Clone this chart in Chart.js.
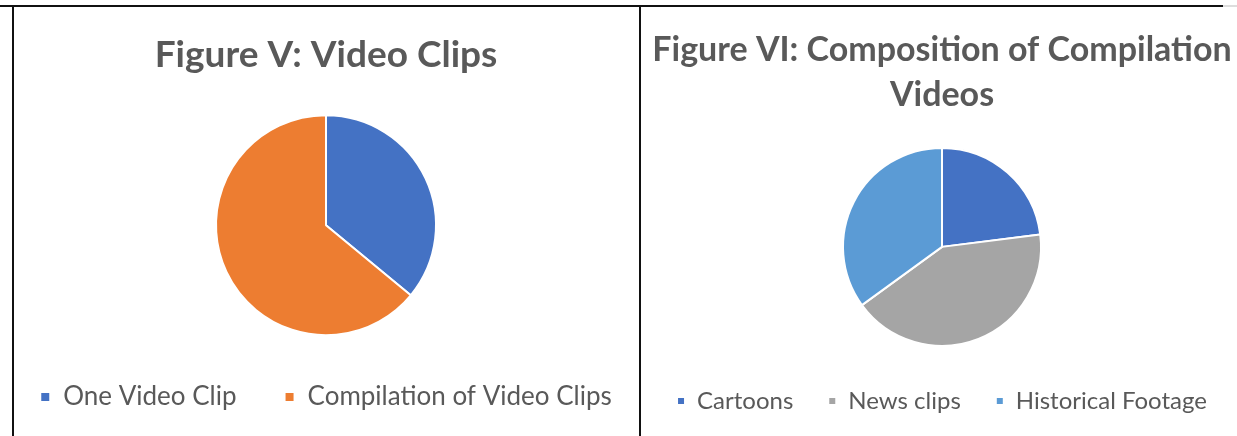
<!DOCTYPE html>
<html>
<head>
  <title>Video Clips</title>
  <script src="https://cdn.jsdelivr.net/npm/chart.js"></script>
  <style>
    body {
      margin: 0;
      width: 1237px;
      height: 436px;
      overflow: hidden;
      background: #fff;
      position: relative;
      font-family: Lato, Arial;
    }
    .box {
      position: absolute;
      top: 0;
    }
    .rule {
      position: absolute;
      background: #111;
      z-index: 5;
    }
  </style>
</head>
<body>
  <!-- table borders -->
  <div class="rule" style="left:0; top:5px; width:1223px; height:2px;"></div>
  <div class="rule" style="left:1223px; top:5px; width:14px; height:2px; background:#ddd;"></div>
  <div class="rule" style="left:12px; top:5px; width:2px; height:431px;"></div>
  <div class="rule" style="left:639px; top:5px; width:2px; height:431px;"></div>

  <div class="box" style="left:-24px; width:700px; height:420px;">
    <canvas id="clipsChart" width="700" height="420"></canvas>
  </div>
  <div class="box" style="left:622px; width:640px; height:423px;">
    <canvas id="compChart" width="640" height="423"></canvas>
  </div>

  <script>
    // Figure V
    const clipLabels = ['One Video Clip', 'Compilation of Video Clips'];
    const clipValues = [36, 64];
    const clipColors = ['#4472C4', '#ED7D31'];

    // Figure VI
    const compLabels = ['Cartoons', 'News clips', 'Historical Footage'];
    const compValues = [23, 42, 35];
    const compColors = ['#4472C4', '#A5A5A5', '#5B9BD5'];

    const textColor = '#595959';

    function pieChart(id, labels, values, colors, opts) {
      const ctx = document.getElementById(id).getContext('2d');
      return new Chart(ctx, {
        type: 'pie',
        data: {
          labels: labels,
          datasets: [{
            data: values,
            backgroundColor: colors,
            borderColor: '#fff',
            borderWidth: 2
          }]
        },
        options: {
          responsive: false,
          animation: false,
          radius: opts.radius,
          plugins: {
            title: {
              display: true,
              text: opts.title,
              color: textColor,
              font: { family: 'Lato', size: opts.titleSize, weight: 'bold', lineHeight: opts.titleLine },
              padding: opts.titlePad
            },
            legend: {
              position: 'bottom',
              labels: {
                color: textColor,
                font: { family: 'Lato', size: opts.legendSize },
                boxWidth: opts.boxSize,
                boxHeight: opts.boxSize,
                padding: opts.legendPad
              }
            },
            tooltip: { enabled: false }
          }
        }
      });
    }

    pieChart('clipsChart', clipLabels, clipValues, clipColors, {
      title: 'Figure V: Video Clips',
      titleSize: 37,
      titleLine: 1.2,
      titlePad: { top: 33, bottom: 37 },
      radius: 110,
      legendSize: 26,
      boxSize: 10,
      legendPad: 48
    });

    pieChart('compChart', compLabels, compValues, compColors, {
      title: ['Figure VI: Composition of Compilation', 'Videos'],
      titleSize: 34,
      titleLine: 1.32,
      titlePad: { top: 28, bottom: 22 },
      radius: 99,
      legendSize: 24,
      boxSize: 8,
      legendPad: 35
    });
  </script>
</body>
</html>
